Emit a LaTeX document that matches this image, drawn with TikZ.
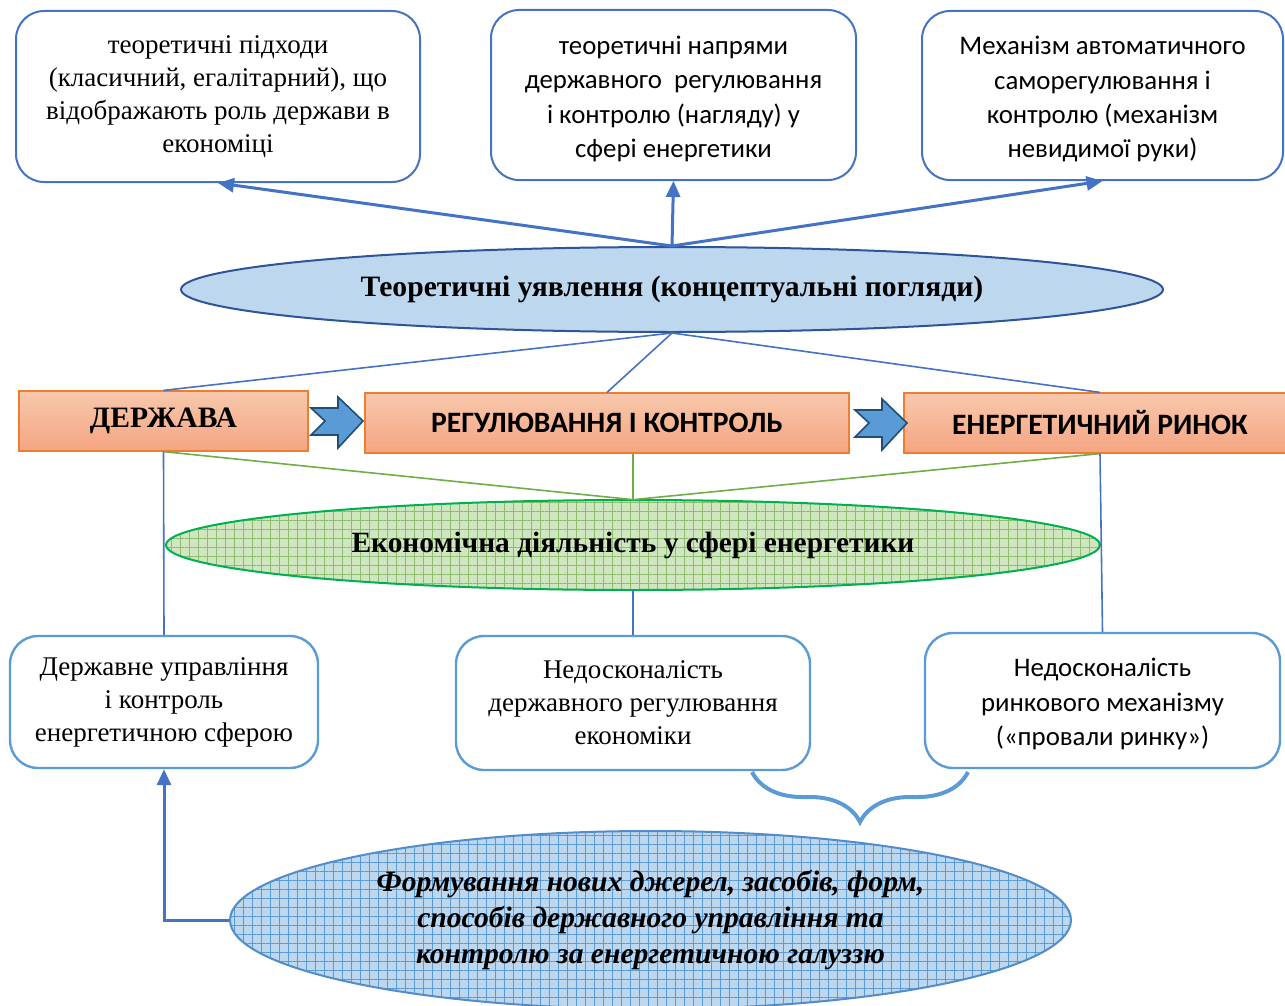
\documentclass[tikz,border=0pt]{standalone}
\usepackage{fontspec}
\setmainfont{Liberation Serif}
\newfontfamily\calibri{Carlito}
\usetikzlibrary{shapes.geometric,arrows.meta,patterns.meta,decorations.pathreplacing,calc}
\definecolor{topblue}{HTML}{4472C4}
\definecolor{lowblue}{HTML}{5B9BD5}
\definecolor{ellblue}{HTML}{BDD7EE}
\definecolor{darkblue}{HTML}{2E5597}
\definecolor{orgline}{HTML}{ED7D31}
\definecolor{orgtop}{HTML}{F8C8AC}
\definecolor{orgbot}{HTML}{F4A582}
\definecolor{grnline}{HTML}{70AD47}
\definecolor{grnedge}{HTML}{00B050}
\definecolor{grnfill}{HTML}{CFE6C0}
\definecolor{arrdraw}{HTML}{1F4E79}
\newcommand{\topstrut}{\rule{0pt}{13pt}}
\tikzset{
  blockarr/.pic={\draw[fill=lowblue,draw=arrdraw,line width=0.8pt]
    (0,-13) -- (27,-13) -- (27,-24) -- (52,0) -- (27,27) -- (27,14) -- (0,14) -- (14,0) -- cycle;}
}
\begin{document}
\begin{tikzpicture}[x=0.5pt,y=-0.5pt,
    topbox/.style={draw=topblue,line width=1pt,rounded corners=14pt,align=center,inner sep=0pt},
    lowbox/.style={draw=lowblue,line width=1.2pt,rounded corners=14pt,align=center,inner sep=0pt},
    orgbox/.style={draw=orgline,line width=0.6pt,top color=orgtop,bottom color=orgbot,inner sep=0pt,minimum height=30pt},
    upper/.style={draw=topblue,line width=1.5pt,-{Triangle[length=8pt,width=7pt]}},
    thin/.style={draw=topblue,line width=0.8pt},
    grn/.style={draw=grnline,line width=0.8pt},
    serif/.style={font=\fontsize{13.5}{16.5}\selectfont},
    sans/.style={font=\calibri\fontsize{13.4}{17.2}\selectfont}]
  \useasboundingbox (0,0) rectangle (1285,1006);
  % top row
  \node[topbox,serif,minimum width=202pt,minimum height=85.5pt] (top1) at (218,96.5)
    {теоретичні підходи\\(класичний, егалітарний), що\\відображають роль держави в\\економіці};
  \node[topbox,sans,minimum width=182.5pt,minimum height=85pt] (top2) at (673.5,95)
    {\topstrut теоретичні напрями\\державного\ \ регулювання\\і контролю (нагляду) у\\сфері енергетики};
  \node[topbox,sans,minimum width=180.5pt,minimum height=84.5pt] (top3) at (1102.5,95.5)
    {\topstrut Механізм автоматичного\\саморегулювання і\\контролю (механізм\\невидимої руки)};
  \node[ellipse,draw=darkblue,line width=1pt,fill=ellblue,inner sep=0pt,minimum width=491pt,minimum height=42.5pt,
    font=\bfseries\fontsize{14.8}{17}\selectfont] (theory) at (672,289.5)
    {Теоретичні уявлення (концептуальні погляди)};
  \draw[upper] (theory.north) -- (top1.south);
  \draw[upper] (theory.north) -- (top2.south);
  \draw[upper] (theory.north) -- (top3.south);
  % middle row
  \node[orgbox,minimum width=144.5pt,font=\bfseries\fontsize{14.8}{17}\selectfont] (derzh) at (163.5,421) {ДЕРЖАВА};
  \node[orgbox,minimum width=242pt,font=\calibri\bfseries\fontsize{14.8}{17}\selectfont] (regul) at (607,423) {РЕГУЛЮВАННЯ І КОНТРОЛЬ};
  \node[orgbox,minimum width=196pt,font=\calibri\bfseries\fontsize{14.8}{17}\selectfont] (rynok) at (1100,423) {ЕНЕРГЕТИЧНИЙ РИНОК};
  \pic at (311,421) {blockarr};
  \pic at (855,423) {blockarr};
  \draw[thin] (theory.south) -- (derzh.north);
  \draw[thin] (theory.south) -- (regul.north);
  \draw[thin] (theory.south) -- (rynok.north);
  \node[ellipse,draw=grnedge,line width=1pt,preaction={fill=grnfill},
    pattern={Hatch[angle=0,distance=4.5pt,line width=0.35pt]},pattern color=grnline!80,
    inner sep=0pt,minimum width=467pt,minimum height=45pt,
    font=\bfseries\fontsize{14.7}{17}\selectfont] (econ) at (633,545)
    {Економічна діяльність у сфері енергетики};
  \draw[grn] (derzh.south) -- (econ.north);
  \draw[grn] (regul.south -| econ.north) -- (econ.north);
  \draw[grn] (rynok.south) -- (econ.north);
  % bottom row
  \node[lowbox,serif,minimum width=154pt,minimum height=66pt] (bot1) at (164,702)
    {Державне управління\\і контроль\\енергетичною сферою};
  \node[lowbox,serif,minimum width=177pt,minimum height=67pt] (bot2) at (633,703)
    {Недосконалість\\державного регулювання\\економіки};
  \node[lowbox,sans,minimum width=177.5pt,minimum height=67.5pt] (bot3) at (1102.5,700.5)
    {\topstrut Недосконалість\\ринкового механізму\\(«провали ринку»)};
  \draw[thin] (derzh.south) -- (bot1.north);
  \draw[thin] (econ.south) -- (bot2.north);
  \draw[thin] (rynok.south) -- (bot3.north);
  \coordinate (brl) at (752,772);
  \coordinate (brr) at (968,772);
  \draw[draw=lowblue,line width=2pt,decorate,decoration={brace,amplitude=25pt}] (brr) -- (brl);
  \node[ellipse,draw=lowblue!80!darkblue,line width=1pt,preaction={fill=ellblue},
    pattern={Hatch[angle=0,distance=4.5pt,line width=0.35pt]},pattern color=lowblue,
    inner sep=0pt,minimum width=420.5pt,minimum height=89pt,align=center,
    font=\bfseries\itshape\fontsize{14.8}{18}\selectfont] (form) at (650.5,920)
    {Формування нових джерел, засобів, форм,\\способів державного управління та\\контролю за енергетичною галуззю};
  \draw[upper] (form.west) -| (bot1.south);
\end{tikzpicture}
\end{document}
